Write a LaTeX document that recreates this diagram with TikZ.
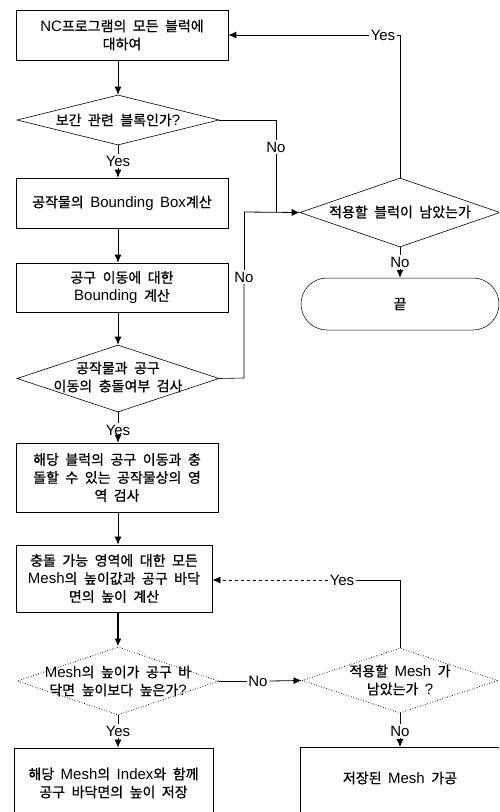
\documentclass[tikz,border=0pt]{standalone}
\usepackage{fontspec}
\setmainfont{Noto Sans CJK KR}[FakeBold=0.8]
\newfontfamily\latf{Liberation Sans}
\newcommand\eng[1]{{\latf\fontsize{15}{18}\selectfont #1}}
\newcommand\kfont{\fontsize{14}{18}\selectfont\spaceskip=6.5pt plus 1pt minus 1pt\relax}
\usetikzlibrary{shapes.geometric,arrows.meta}
\begin{document}
\begin{tikzpicture}[x=1pt,y=-1pt,
  every node/.style={font=\kfont},
  box/.style={draw, line width=0.6pt, rectangle, inner sep=0pt, align=center},
  dia/.style={draw, line width=0.6pt, diamond, inner sep=0pt},
  dotdia/.style={dia, dotted, line width=0.9pt},
  term/.style={draw, line width=0.5pt, rectangle, rounded corners=26pt, inner sep=0pt},
  txt/.style={align=center, inner sep=0pt},
  lbl/.style={fill=white, inner sep=1.5pt},
  ln/.style={line width=0.6pt},
  arr/.style={line width=0.8pt, -{Latex[length=8pt,width=7pt]}},
  barr/.style={line width=1.6pt, -{Latex[length=8pt,width=7pt]}}]
\useasboundingbox (0,0) rectangle (499,812);
\clip (0,0) rectangle (499,812);
\fill[white] (0,0) rectangle (499,812);

% left column
\node[box, minimum width=212pt, minimum height=50pt] (b1) at (122,35) {\eng{NC}프로그램의 모든 블럭에\\대하여};
\node[dia, minimum width=202pt, minimum height=50pt] (d1) at (118,120) {};
\node[txt] (d1t) at (d1) {보간 관련 블록인가\eng{?}};
\node[lbl] (y1) at (118,161) {\eng{Yes}};
\node[box, minimum width=212pt, minimum height=50pt] (b2) at (122,203) {공작물의 \eng{Bounding Box}계산};
\node[box, minimum width=212pt, minimum height=49pt] (b3) at (122,287.5) {공구 이동에 대한\\\eng{Bounding} 계산};
\node[dia, minimum width=202pt, minimum height=67pt] (d2) at (118,378.5) {};
\node[txt] (d2t) at (118,377) {공작물과 공구\\이동의 충돌여부 검사};
\node[lbl] (y2) at (118,430) {\eng{Yes}};
\node[box, minimum width=202pt, minimum height=69pt] (b4) at (117,477.5) {해당 블럭의 공구 이동과 충\\돌할 수 있는 공작물상의 영\\역 검사};
\node[box, line width=0.9pt, minimum width=196pt, minimum height=67pt] (b5) at (114,578.5) {충돌 가능 영역에 대한 모든\\\eng{Mesh}의 높이값과 공구 바닥\\면의 높이 계산};
\node[dotdia, minimum width=202pt, minimum height=68pt] (d3) at (118,681) {};
\node[txt] (d3t) at (118,681) {\eng{Mesh}의 높이가 공구 바\\닥면 높이보다 높은가\eng{?}};
\node[lbl] (y3) at (118,731) {\eng{Yes}};
\node[box, line width=0.9pt, minimum width=199pt, minimum height=70pt] (b6) at (113.5,783) {해당 \eng{Mesh}의 \eng{Index}와 함께\\공구 바닥면의 높이 저장};

% right column
\node[dia, minimum width=200pt, minimum height=69pt] (d4) at (400,212.5) {};
\node[txt] (d4t) at (400,212) {적용할 블럭이 남았는가};
\node[lbl] (n4) at (400,262) {\eng{No}};
\node[term, minimum width=198pt, minimum height=52pt] (t1) at (400,304) {끝};
\node[dotdia, minimum width=196pt, minimum height=65pt] (d5) at (400,680.5) {};
\node[txt] (d5t) at (400,680) {적용할 \eng{Mesh} 가\\남았는가 \eng{?}};
\node[lbl] (n5) at (400,731) {\eng{No}};
\node[box, line width=0.9pt, minimum width=200pt, minimum height=70pt, anchor=north] (b7) at (400,747) {};
\node[txt] (b7t) at (400,778) {저장된 \eng{Mesh} 가공};

% labels on loops
\node[lbl] (yl1) at (383,35) {\eng{Yes}};
\node[lbl] (nl1) at (276,147) {\eng{No}};
\node[lbl] (nl2) at (244,277) {\eng{No}};
\node[lbl] (nl3) at (258,681) {\eng{No}};
\node[lbl] (yl2) at (342,580) {\eng{Yes}};

\coordinate (c1) at (d4.north |- b1.east);
\coordinate (c2) at (276,120);
\coordinate (c3) at (276,212);
\coordinate (c4) at (244,378);
\coordinate (c5) at (244,212);
\coordinate (c6) at (d5.north |- yl2);

% main flow
\draw[arr] (d1.north |- b1.south) -- (d1.north);
\draw[ln] (d1.south) -- (y1.north);
\draw[arr] (y1.south) -- (y1.south |- b2.north);
\draw[arr] (d1.north |- b2.south) -- (d1.north |- b3.north);
\draw[arr] (d1.north |- b3.south) -- (d2.north);
\draw[ln] (d2.south) -- (y2.north);
\draw[arr] (y2.south) -- (y2.south |- b4.north);
\draw[arr] (d2.north |- b4.south) -- (d2.north |- b5.north);
\draw[barr] (d3.north |- b5.south) -- (d3.north);
\draw[ln] (d3.south) -- (y3.north);
\draw[arr] (y3.south) -- (y3.south |- b6.north);

% right flow
\draw[ln] (d4.north) -- (c1) -- (yl1.east);
\draw[arr] (yl1.west) -- (b1.east);
\draw[ln] (d1.east) -- (c2) -- (nl1.north);
\draw[ln] (nl1.south) -- (c3);
\draw[ln] (d2.east) -- (c4) -- (nl2.south);
\draw[ln] (nl2.north) -- (c5);
\draw[arr] (c5) -- (d4.west);
\draw[ln] (d4.south) -- (n4.north);
\draw[arr] (n4.south) -- (t1.north);
\draw[ln] (d3.east) -- (nl3.west);
\draw[arr] (nl3.east) -- (d5.west);
\draw[line width=1pt] (d5.north) -- (c6) -- (yl2.east);
\draw[arr, dashed] (yl2.west) -- (b5.east |- yl2);
\draw[ln] (d5.south) -- (n5.north);
\draw[arr] (n5.south) -- (b7.north);
\end{tikzpicture}
\end{document}
